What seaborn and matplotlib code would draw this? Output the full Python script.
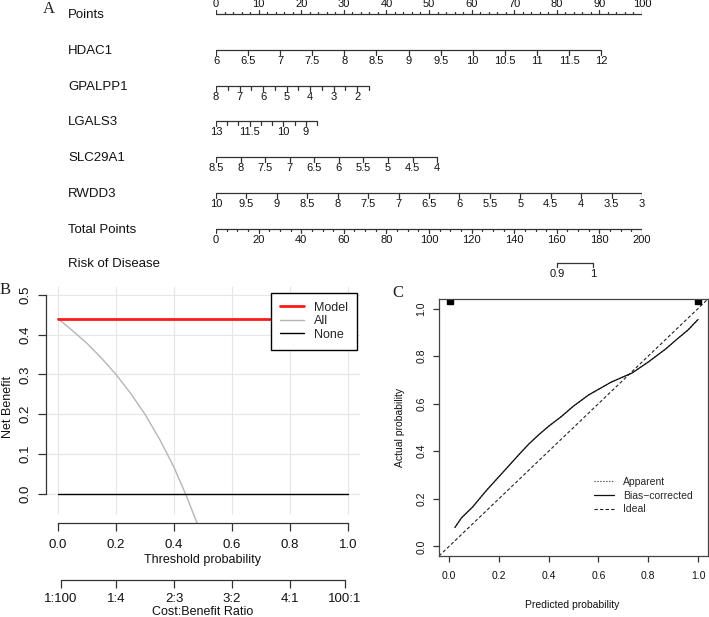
import numpy as np
import pandas as pd
import matplotlib
matplotlib.use("Agg")
import matplotlib.pyplot as plt
import seaborn as sns
from matplotlib.lines import Line2D

sns.set_theme(style="white")
plt.rcParams['font.family'] = ['Liberation Sans', 'DejaVu Sans']

W, H = 709, 617

# ---------------- Panel A: nomogram data ----------------
row_names = ["Points", "HDAC1", "GPALPP1", "LGALS3", "SLC29A1", "RWDD3",
             "Total Points", "Risk of Disease"]

points_labels = [0, 10, 20, 30, 40, 50, 60, 70, 80, 90, 100]
points_minor = list(range(0, 101, 2))

hdac1_labels = [6, 6.5, 7, 7.5, 8, 8.5, 9, 9.5, 10, 10.5, 11, 11.5, 12]
hdac1_ticks = hdac1_labels
hdac1_range = [6, 12]
hdac1_points = [0, 90.4]

gpalpp1_labels = [8, 7, 6, 5, 4, 3, 2]
gpalpp1_ticks = [8, 7.5, 7, 6.5, 6, 5.5, 5, 4.5, 4, 3.5, 3, 2.5, 2, 1.5]
gpalpp1_range = [8, 1.5]
gpalpp1_points = [0, 35.9]

lgals3_labels = [13, 11.5, 10, 9]
lgals3_ticks = [13, 12.5, 12, 11.5, 11, 10.5, 10, 9.5, 9, 8.5]
lgals3_range = [13, 8.5]
lgals3_points = [0, 23.7]

slc29a1_labels = [8.5, 8, 7.5, 7, 6.5, 6, 5.5, 5, 4.5, 4]
slc29a1_ticks = slc29a1_labels
slc29a1_range = [8.5, 4]
slc29a1_points = [0, 51.9]

rwdd3_labels = [10, 9.5, 9, 8.5, 8, 7.5, 7, 6.5, 6, 5.5, 5, 4.5, 4, 3.5, 3]
rwdd3_ticks = rwdd3_labels
rwdd3_range = [10, 3]
rwdd3_points = [0, 100]

total_labels = [0, 20, 40, 60, 80, 100, 120, 140, 160, 180, 200]
total_minor = list(range(0, 201, 5))

risk_labels = ["0.9", "1"]
risk_total = [160, 177]

# ---------------- Panel B: decision curve data ----------------
model_t = [0.0, 1.0]
model_nb = [0.44, 0.44]
all_t = [0.0, 0.05, 0.10, 0.15, 0.20, 0.25, 0.30, 0.35, 0.40, 0.44, 0.479]
all_nb = [0.44, 0.410, 0.378, 0.341, 0.300, 0.253, 0.200, 0.138, 0.067, 0.0, -0.072]
none_t = [0.0, 1.0]
none_nb = [0.0, 0.0]
cb_pos = [0.0099, 0.2, 0.4, 0.6, 0.8, 0.99]
cb_labels = ["1:100", "1:4", "2:3", "3:2", "4:1", "100:1"]

# ---------------- Panel C: calibration data ----------------
bias_x = [0.024, 0.05, 0.095, 0.15, 0.215, 0.28, 0.32, 0.361, 0.40, 0.45, 0.50,
          0.561, 0.65, 0.735, 0.80, 0.87, 0.921, 0.96, 1.0]
bias_y = [0.08, 0.12, 0.166, 0.235, 0.31, 0.385, 0.43, 0.47, 0.505, 0.545, 0.59,
          0.637, 0.69, 0.729, 0.775, 0.83, 0.876, 0.91, 0.954]
apparent_x = bias_x
apparent_y = bias_y
rug_x = [0.004, 1.0]
rug_y = [1.03, 1.03]

fig = plt.figure(figsize=(W / 100, H / 100), dpi=100)
fig.patch.set_facecolor("white")


def fx(x):
    return x / W


def fy(y):
    return 1 - y / H


LC = "#333333"
ROWFS = 9.5
TICKFS = 8

# ---------------- Panel A ----------------
axA = fig.add_axes([fx(216), fy(280), 426 / W, 280 / H])
axA.set_xlim(0, 100)
axA.set_ylim(280, 0)
axA.axis("off")

row_y = [14, 50, 86, 121, 157, 193, 229, 263]
px_per_pt = 426 / 100.0


def lin(vals, vrange, prange):
    vals = np.asarray(vals, dtype=float)
    return prange[0] + (vals - vrange[0]) / (vrange[1] - vrange[0]) * (prange[1] - prange[0])


def draw_var(y, ticks, labels, vrange, prange):
    x0, x1 = lin(vrange, vrange, prange)
    axA.plot([x0, x1], [y, y], color=LC, lw=0.9, solid_capstyle="butt")
    tx = lin(ticks, vrange, prange)
    lab = set(labels)
    for v, x in zip(ticks, tx):
        ln = 5 if v in lab else 3.5
        axA.plot([x, x], [y, y + ln], color=LC, lw=0.9)
    lx = lin(labels, vrange, prange)
    for v, x in zip(labels, lx):
        s = ("%g" % v)
        axA.text(x, y + 11, s, ha="center", va="center", fontsize=TICKFS, color="#111111")


for name, y in zip(row_names, row_y):
    axA.text((68 - 216) / px_per_pt, y + 1, name, ha="left", va="center",
             fontsize=ROWFS, color="#111111", clip_on=False)

# Points axis (labels above)
y = row_y[0]
axA.plot([0, 100], [y, y], color=LC, lw=0.9)
for v in points_minor:
    ln = 4 if v in points_labels else 2.2
    axA.plot([v, v], [y, y - ln], color=LC, lw=0.9)
for v in points_labels:
    axA.text(v, y - 10, str(v), ha="center", va="center", fontsize=TICKFS, color="#111111")

draw_var(row_y[1], hdac1_ticks, hdac1_labels, hdac1_range, hdac1_points)
draw_var(row_y[2], gpalpp1_ticks, gpalpp1_labels, gpalpp1_range, gpalpp1_points)
draw_var(row_y[3], lgals3_ticks, lgals3_labels, lgals3_range, lgals3_points)
draw_var(row_y[4], slc29a1_ticks, slc29a1_labels, slc29a1_range, slc29a1_points)
draw_var(row_y[5], rwdd3_ticks, rwdd3_labels, rwdd3_range, rwdd3_points)

# Total points
y = row_y[6]
axA.plot([0, 100], [y, y], color=LC, lw=0.9)
for v in total_minor:
    ln = 4 if v in total_labels else 2.2
    axA.plot([v / 2, v / 2], [y, y + ln], color=LC, lw=0.9)
for v in total_labels:
    axA.text(v / 2, y + 11, str(v), ha="center", va="center", fontsize=TICKFS, color="#111111")

# Risk
y = row_y[7]
rx = [t / 2 for t in risk_total]
axA.plot(rx, [y, y], color=LC, lw=0.9)
for x, s in zip(rx, risk_labels):
    axA.plot([x, x], [y, y + 4], color=LC, lw=0.9)
    axA.text(x, y + 11, s, ha="center", va="center", fontsize=TICKFS, color="#111111")

fig.text(fx(49), fy(9), "A", ha="center", va="center", fontsize=12,
         family="Liberation Serif", color="#222222")

# ---------------- Panel B ----------------
bl, br, bt, bb = 46.4, 359.6, 286, 522.7
axB = fig.add_axes([fx(bl), fy(bb), (br - bl) / W, (bb - bt) / H])
axB.set_xlim(-0.04, 1.04)
axB.set_ylim(-0.072, 0.522)
gx = [0, 0.2, 0.4, 0.6, 0.8, 1.0]
gy = [0, 0.1, 0.2, 0.3, 0.4, 0.5]
axB.vlines(gx, -0.05, 0.522, color="#e6e6e6", lw=0.8, zorder=0)
axB.hlines(gy, -0.04, 1.04, color="#e6e6e6", lw=0.8, zorder=0)

dfB = pd.concat([
    pd.DataFrame({"t": model_t, "nb": model_nb, "curve": "Model"}),
    pd.DataFrame({"t": all_t, "nb": all_nb, "curve": "All"}),
    pd.DataFrame({"t": none_t, "nb": none_nb, "curve": "None"}),
])
sns.lineplot(data=dfB[dfB.curve == "All"], x="t", y="nb", color="#b5b5b5", lw=1.0,
             ax=axB, sort=False, estimator=None)
sns.lineplot(data=dfB[dfB.curve == "None"], x="t", y="nb", color="black", lw=1.0,
             ax=axB, sort=False, estimator=None)
sns.lineplot(data=dfB[dfB.curve == "Model"], x="t", y="nb", color="#ff1a1a", lw=2.0,
             ax=axB, sort=False, estimator=None)
axB.set_xlabel("")
axB.set_ylabel("")
for s in ["top", "right"]:
    axB.spines[s].set_visible(False)
axB.spines["left"].set_bounds(0, 0.5)
axB.spines["bottom"].set_bounds(0, 1)
for s in ["left", "bottom"]:
    axB.spines[s].set_color(LC)
    axB.spines[s].set_linewidth(0.9)
axB.set_xticks(gx)
axB.set_xticklabels(["0.0", "0.2", "0.4", "0.6", "0.8", "1.0"])
axB.set_yticks(gy)
axB.set_yticklabels(["0.0", "0.1", "0.2", "0.3", "0.4", "0.5"], rotation=90, va="center")
axB.tick_params(axis="both", direction="out", length=5.5, width=0.9, color=LC,
                labelsize=9.5, labelcolor="#111111", bottom=True, left=True)
axB.tick_params(axis="x", pad=6)
axB.tick_params(axis="y", pad=5)

handles = [Line2D([], [], color="#ff1a1a", lw=2.0),
           Line2D([], [], color="#b5b5b5", lw=1.0),
           Line2D([], [], color="black", lw=1.0)]
legB = axB.legend(handles, ["Model", "All", "None"], loc="upper right",
                  bbox_to_anchor=(fx(356.5), fy(293)), bbox_transform=fig.transFigure,
                  fontsize=9, frameon=True, fancybox=False, framealpha=1.0,
                  handlelength=1.9, handletextpad=0.8, borderpad=0.7,
                  labelspacing=0.12, borderaxespad=0)
legB.get_frame().set_edgecolor("black")
legB.get_frame().set_linewidth(1.0)
legB.set_zorder(10)

fig.text(fx(203), fy(560), "Threshold probability", ha="center", va="center",
         fontsize=9, color="#111111")
fig.text(fx(8), fy(407), "Net Benefit", ha="center", va="center", rotation=90,
         fontsize=9, color="#111111")

axB2 = fig.add_axes([fx(bl), fy(580), (br - bl) / W, 0.0001])
axB2.set_xlim(-0.04, 1.04)
axB2.patch.set_visible(False)
for s in ["top", "right", "left"]:
    axB2.spines[s].set_visible(False)
axB2.spines["bottom"].set_bounds(cb_pos[0], cb_pos[-1])
axB2.spines["bottom"].set_color(LC)
axB2.spines["bottom"].set_linewidth(0.9)
axB2.set_yticks([])
axB2.set_xticks(cb_pos)
axB2.set_xticklabels(cb_labels)
axB2.tick_params(axis="x", direction="out", length=5.5, width=0.9, color=LC,
                 labelsize=9.5, labelcolor="#111111", pad=4, bottom=True)
fig.text(fx(203), fy(612), "Cost:Benefit Ratio", ha="center", va="center",
         fontsize=9, color="#111111")

fig.text(fx(5), fy(290), "B", ha="center", va="center", fontsize=12,
         family="Liberation Serif", color="#222222")

# ---------------- Panel C ----------------
cl, cr, ct, cb = 439, 708, 299, 556
axC = fig.add_axes([fx(cl), fy(cb), (cr - cl) / W, (cb - ct) / H])
axC.set_xlim(-0.04, 1.04)
axC.set_ylim(-0.04, 1.04)
axC.axline((0, 0), (1, 1), color="#222222", lw=0.8, ls=(0, (3, 2)))
dfC = pd.DataFrame({"x": bias_x, "y": bias_y})
dfA = pd.DataFrame({"x": apparent_x, "y": apparent_y})
sns.lineplot(data=dfA, x="x", y="y", color="#222222", lw=0.8, ls=":", ax=axC,
             sort=False, estimator=None)
sns.lineplot(data=dfC, x="x", y="y", color="#111111", lw=0.9, ax=axC,
             sort=False, estimator=None)
axC.plot(rug_x, rug_y, ls="none", marker="s", ms=4, color="black")
axC.set_xlabel("")
axC.set_ylabel("")
for s in axC.spines.values():
    s.set_color("#444444")
    s.set_linewidth(0.9)
ct_ = [0, 0.2, 0.4, 0.6, 0.8, 1.0]
axC.set_xticks(ct_)
axC.set_xticklabels(["0.0", "0.2", "0.4", "0.6", "0.8", "1.0"])
axC.set_yticks(ct_)
axC.set_yticklabels(["0.0", "0.2", "0.4", "0.6", "0.8", "1.0"], rotation=90, va="center")
axC.tick_params(axis="both", direction="out", length=4, width=0.9, color=LC,
                labelsize=7.5, labelcolor="#111111", bottom=True, left=True)
axC.tick_params(axis="x", pad=7)
axC.tick_params(axis="y", pad=5)

handlesC = [Line2D([], [], color="#222222", lw=0.8, ls=":"),
            Line2D([], [], color="#111111", lw=0.9),
            Line2D([], [], color="#222222", lw=0.8, ls=(0, (3, 2)))]
axC.legend(handlesC, ["Apparent", "Bias\u2212corrected", "Ideal"], loc="upper left",
           bbox_to_anchor=(fx(594), fy(477)), bbox_transform=fig.transFigure,
           fontsize=7.5, frameon=False, handlelength=1.9, handletextpad=0.9,
           borderpad=0, labelspacing=0.35, borderaxespad=0)

fig.text(fx(572), fy(605), "Predicted probability", ha="center", va="center",
         fontsize=7.5, color="#111111")
fig.text(fx(400), fy(427), "Actual probability", ha="center", va="center",
         rotation=90, fontsize=7.5, color="#111111")
fig.text(fx(398), fy(293), "C", ha="center", va="center", fontsize=12,
         family="Liberation Serif", color="#222222")

fig.savefig("out.png", dpi=100, facecolor="white")
